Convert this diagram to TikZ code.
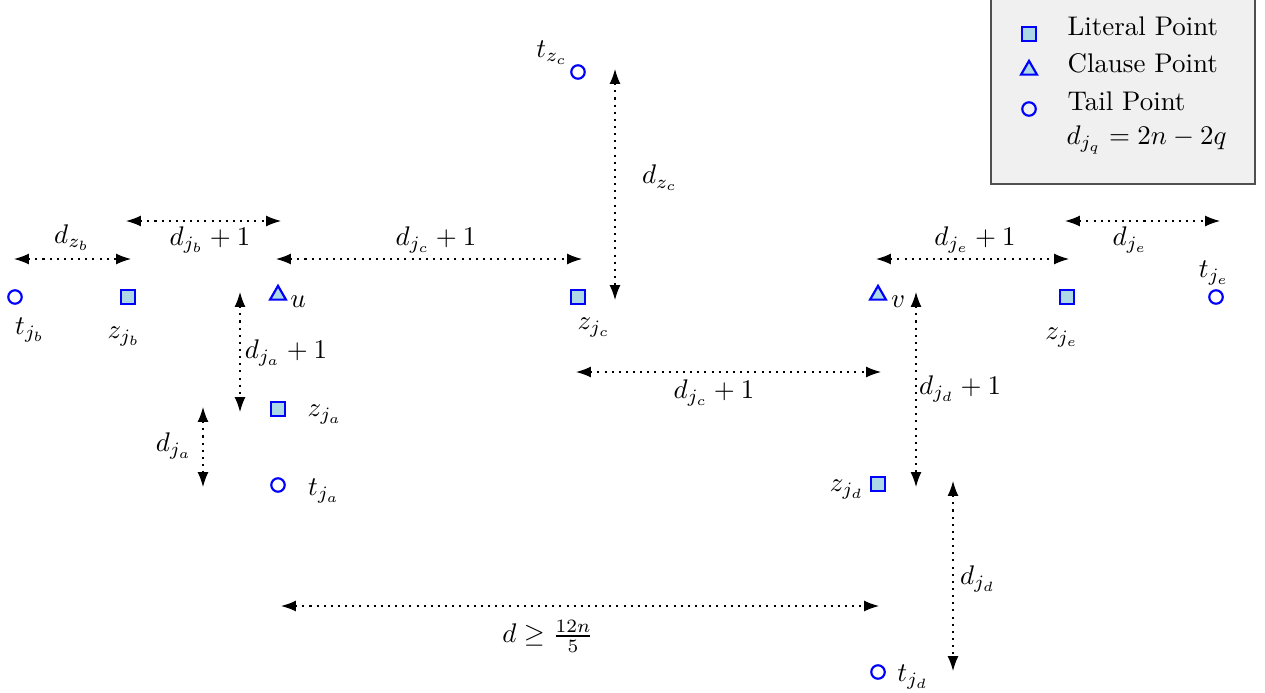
\documentclass[tikz,border=0pt]{standalone}
\usetikzlibrary{arrows.meta,shapes.geometric}
\definecolor{ptfill}{HTML}{ADD8E6}
\definecolor{legfill}{HTML}{F0F0F0}
\definecolor{legdraw}{HTML}{505050}
\tikzset{
  litpt/.style={draw=blue, fill=ptfill, line width=0.8pt, minimum size=5pt, inner sep=0pt, rectangle},
  clausept/.style={draw=blue, fill=ptfill, line width=0.8pt, regular polygon, regular polygon sides=3, minimum size=6.8pt, inner sep=0pt},
  tailpt/.style={draw=blue, line width=0.8pt, circle, minimum size=5pt, inner sep=0pt},
  dimarrow/.style={{Latex[length=5.5pt,width=4pt]}-{Latex[length=5.5pt,width=4pt]}, dash pattern=on 0.75pt off 1.9pt, line width=0.45pt},
  lbl/.style={inner sep=0pt}
}
\begin{document}
\begin{tikzpicture}[x=0.01305cm,y=-0.01305cm]
\useasboundingbox (0,0) rectangle (1265,692);
% legend
\draw[fill=legfill, draw=legdraw, line width=0.5pt] (991,-5) rectangle (1255,184);
\node[litpt] (lg1) at (1029,34) {};
\node[clausept] (lg2) at (1029,70) {};
\node[tailpt] (lg3) at (1029,109) {};
\node[lbl, anchor=west] (lt1) at (1067,26) {Literal Point};
\node[lbl, anchor=west] (lt2) at (1067,63) {Clause Point};
\node[lbl, anchor=west] (lt3) at (1067,101) {Tail Point};
\node[lbl, anchor=west] (lt4) at (1066,140) {$d_{j_q} = 2n - 2q$};
% points
\node[tailpt] (tjb) at (15,297) {};
\node[lbl] at (30,330) {$t_{j_b}$};
\node[litpt] (zjb) at (128,297) {};
\node[lbl] at (124,337) {$z_{j_b}$};
\node[clausept] (u) at (278,295) {};
\node[lbl] at (298,302) {$u$};
\node[litpt] (zjc) at (578,297) {};
\node[lbl] at (594,328) {$z_{j_c}$};
\node[tailpt] (tzc) at (578,72) {};
\node[lbl] at (552,53) {$t_{z_c}$};
\node[clausept] (v) at (878,295) {};
\node[lbl] at (898,302) {$v$};
\node[litpt] (zje) at (1067,297) {};
\node[lbl] at (1062,338) {$z_{j_e}$};
\node[tailpt] (tje) at (1216,297) {};
\node[lbl] at (1214,273) {$t_{j_e}$};
\node[litpt] (zja) at (278,409) {};
\node[lbl] at (325,415) {$z_{j_a}$};
\node[tailpt] (tja) at (278,485) {};
\node[lbl] at (324,491) {$t_{j_a}$};
\node[litpt] (zjd) at (878,484) {};
\node[lbl] at (847,490) {$z_{j_d}$};
\node[tailpt] (tjd) at (878,672) {};
\node[lbl] at (913,677) {$t_{j_d}$};
% arrow end points
\coordinate (a1) at (14,259);  \coordinate (a2) at (131,259);
\coordinate (b1) at (126,221); \coordinate (b2) at (281,221);
\coordinate (c1) at (276,259); \coordinate (c2) at (582,259);
\coordinate (e1) at (615,69);  \coordinate (e2) at (615,300);
\coordinate (f1) at (240,292); \coordinate (f2) at (240,412);
\coordinate (g1) at (203,407); \coordinate (g2) at (203,487);
\coordinate (h1) at (576,372); \coordinate (h2) at (881,372);
\coordinate (i1) at (916,292); \coordinate (i2) at (916,487);
\coordinate (k1) at (876,259); \coordinate (k2) at (1069,259);
\coordinate (l1) at (1065,221);\coordinate (l2) at (1220,221);
\coordinate (m1) at (953,481); \coordinate (m2) at (953,671);
\coordinate (n1) at (281,606); \coordinate (n2) at (879,606);
\draw[dimarrow] (a1) -- (a2);
\node[lbl] at (72,238) {$d_{z_b}$};
\draw[dimarrow] (b1) -- (b2);
\node[lbl] at (210,240) {$d_{j_b}+1$};
\draw[dimarrow] (c1) -- (c2);
\node[lbl] at (436,240) {$d_{j_c}+1$};
\draw[dimarrow] (e1) -- (e2);
\node[lbl] at (660,178) {$d_{z_c}$};
\draw[dimarrow] (f1) -- (f2);
\node[lbl] at (286,353) {$d_{j_a}+1$};
\draw[dimarrow] (g1) -- (g2);
\node[lbl] at (174,446) {$d_{j_a}$};
\draw[dimarrow] (h1) -- (h2);
\node[lbl] at (714,393) {$d_{j_c}+1$};
\draw[dimarrow] (i1) -- (i2);
\node[lbl] at (960,389) {$d_{j_d}+1$};
\draw[dimarrow] (k1) -- (k2);
\node[lbl] at (975,240) {$d_{j_e}+1$};
\draw[dimarrow] (l1) -- (l2);
\node[lbl] at (1130,240) {$d_{j_e}$};
\draw[dimarrow] (m1) -- (m2);
\node[lbl] at (978,579) {$d_{j_d}$};
\draw[dimarrow] (n1) -- (n2);
\node[lbl] at (548,636) {$d \geq \frac{12n}{5}$};
\end{tikzpicture}
\end{document}
